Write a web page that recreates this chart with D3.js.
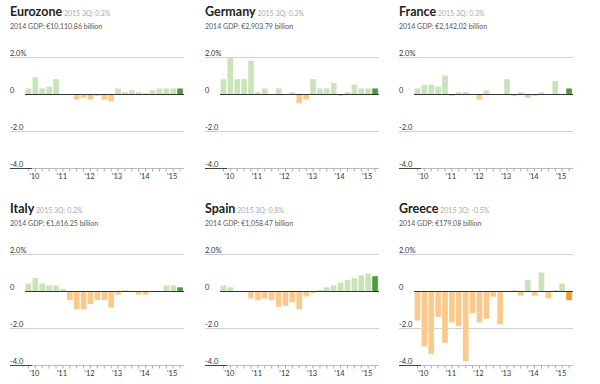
<!DOCTYPE html>
<html>
<head>
<meta charset="utf-8">
<script src="https://cdn.jsdelivr.net/npm/d3@7"></script>
<style>
  body { margin: 0; background: #fff; }
  svg { font-family: Lato, "Open Sans", sans-serif; }
</style>
</head>
<body>
<svg id="chart" width="600" height="384"></svg>
<script>
var quarters = ["2010Q1","2010Q2","2010Q3","2010Q4","2011Q1","2011Q2","2011Q3","2011Q4",
                "2012Q1","2012Q2","2012Q3","2012Q4","2013Q1","2013Q2","2013Q3","2013Q4",
                "2014Q1","2014Q2","2014Q3","2014Q4","2015Q1","2015Q2","2015Q3"];
var yearLabels = {"2010Q2": "'10", "2011Q2": "'11", "2012Q2": "'12", "2013Q2": "'13", "2014Q2": "'14", "2015Q2": "'15"};
var yTicks = [2, 0, -2, -4];
var yTickLabels = ["2.0%", "0", "-2.0", "-4.0"];

var countries = ["Eurozone", "Germany", "France", "Italy", "Spain", "Greece"];
var latest = ["2015 3Q: 0.3%", "2015 3Q: 0.3%", "2015 3Q: 0.3%", "2015 3Q: 0.2%", "2015 3Q: 0.8%", "2015 3Q: -0.5%"];
var gdp2014 = ["2014 GDP: €10,110.86 billion", "2014 GDP: €2,903.79 billion", "2014 GDP: €2,142.02 billion",
               "2014 GDP: €1,616.25 billion", "2014 GDP: €1,058.47 billion", "2014 GDP: €179.08 billion"];

var eurozone = [0.3, 0.9, 0.3, 0.4, 0.8, 0.0, 0.0, -0.3, -0.2, -0.3, -0.1, -0.3, -0.4, 0.3, 0.1, 0.2, 0.1, 0.05, 0.2, 0.3, 0.3, 0.3, 0.3];
var germany  = [0.8, 2.0, 0.8, 0.8, 1.8, 0.1, 0.3, 0.0, 0.3, 0.0, 0.1, -0.5, -0.3, 0.8, 0.3, 0.3, 0.6, -0.1, 0.1, 0.5, 0.3, 0.3, 0.3];
var france   = [0.3, 0.5, 0.5, 0.4, 1.0, -0.1, 0.1, 0.1, 0.0, -0.3, 0.2, 0.0, 0.0, 0.8, -0.1, 0.1, -0.2, -0.1, 0.1, 0.0, 0.7, 0.0, 0.3];
var italy    = [0.4, 0.7, 0.4, 0.3, 0.3, 0.1, -0.5, -1.0, -1.0, -0.7, -0.5, -0.5, -0.9, -0.2, 0.05, 0.0, -0.2, -0.2, 0.0, 0.0, 0.3, 0.3, 0.2];
var spain    = [0.3, 0.2, 0.0, 0.0, -0.4, -0.5, -0.4, -0.5, -0.85, -0.8, -0.6, -1.0, -0.3, -0.1, 0.05, 0.2, 0.3, 0.45, 0.6, 0.7, 0.85, 0.95, 0.8];
var greece   = [-1.6, -3.0, -3.4, -1.4, -2.8, -1.7, -1.9, -3.8, -1.2, -1.7, -1.5, -0.3, -1.8, 0.0, 0.05, -0.25, 0.6, -0.25, 1.0, -0.4, 0.05, 0.4, -0.5];
var seriesList = [eurozone, germany, france, italy, spain, greece];

var svg = d3.select("#chart");
var colLeft = [10, 205, 399];
var rowTop = [0, 197];

var x = d3.scaleBand().domain(quarters).range([15, 173.5]).paddingInner(0.18).paddingOuter(0.09);
var y = d3.scaleLinear().domain([-4, 2]).range([168, 57]);

countries.forEach(function(name, i) {
  var vals = seriesList[i];
  var last = vals.length - 1;
  var g = svg.append("g")
      .attr("transform", "translate(" + colLeft[i % 3] + "," + rowTop[Math.floor(i / 3)] + ")");

  var title = g.append("text").attr("x", 0).attr("y", 16);
  title.append("tspan").text(name)
      .style("font-weight", "bold").style("font-size", "12.5px").attr("fill", "#222");
  title.append("tspan").text(" " + latest[i])
      .style("font-size", "7px").attr("fill", "#aaa");

  g.append("text").attr("x", 0).attr("y", 28.5)
      .style("font-size", "7px").attr("fill", "#555")
      .text(gdp2014[i]);

  // gridlines
  g.selectAll(".grid").data(yTicks.filter(function(d) { return d !== 0 && d !== -4; }))
    .enter().append("line")
      .attr("x1", 0).attr("x2", 174)
      .attr("y1", function(d) { return y(d) + 0.5; })
      .attr("y2", function(d) { return y(d) + 0.5; })
      .attr("stroke", "#d0d0d0");

  g.selectAll(".ylab").data(yTicks)
    .enter().append("text")
      .attr("x", 0)
      .attr("y", function(d) { return y(d) - 1.5; })
      .style("font-size", "7.5px").attr("fill", "#333")
      .text(function(d, k) { return yTickLabels[k]; });

  // x axis
  var xAxis = d3.axisBottom(x)
      .tickSize(3)
      .tickSizeOuter(0)
      .tickFormat(function(d) { return yearLabels[d] || ""; });
  var ax = g.append("g")
      .attr("transform", "translate(0," + (y(-4) + 0.5) + ")")
      .call(xAxis);
  ax.select(".domain").attr("stroke", "#bbb").attr("d", "M20,0H174");
  ax.selectAll(".tick line").attr("stroke", "#aaa");
  ax.selectAll(".tick text")
      .attr("dx", "-1").attr("y", 5)
      .style("font-size", "7.5px").style("font-family", "Lato, sans-serif").attr("fill", "#333");
  g.append("line")
      .attr("x1", 0).attr("x2", 22)
      .attr("y1", y(-4) + 0.5).attr("y2", y(-4) + 0.5)
      .attr("stroke", "#444");

  g.selectAll(".bar").data(vals)
    .enter().append("rect")
      .attr("x", function(d, k) { return x(quarters[k]); })
      .attr("width", x.bandwidth())
      .attr("y", function(d) { return y(Math.max(0, d)); })
      .attr("height", function(d) { return Math.abs(y(d) - y(0)); })
      .attr("fill", function(d, k) {
        if (k === last) return d >= 0 ? "#4f9a40" : "#f29c2e";
        return d >= 0 ? "#c9e3bb" : "#fac98b";
      });

  g.append("line")
      .attr("x1", 15).attr("x2", 174)
      .attr("y1", y(0) + 0.5).attr("y2", y(0) + 0.5)
      .attr("stroke", "#333");
});
</script>
</body>
</html>
